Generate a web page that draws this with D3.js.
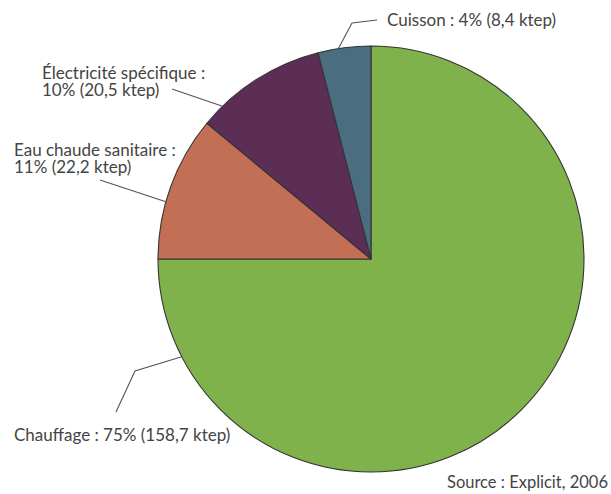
<!DOCTYPE html>
<html>
<head>
<meta charset="utf-8">
<script src="https://cdn.jsdelivr.net/npm/d3@7"></script>
<style>
  body { margin: 0; background: #fff; }
  text { font-family: Lato, "Open Sans", sans-serif; fill: #444; }
</style>
</head>
<body>
<script>
// data
const categories = ['Chauffage', 'Eau chaude sanitaire', 'Électricité spécifique', 'Cuisson'];
const percents = [75, 11, 10, 4];
const ktep = ['158,7', '22,2', '20,5', '8,4'];
const colors = ['#7fb24a', '#c36f55', '#5c2d55', '#4a6d80'];

const W = 611, H = 494;
const cx = 371, cy = 259, R = 213;

// label layout: anchor angle on the rim (deg), elbow, end of leader, text position
const labelLayout = [
  { angle: 242.7, elbow: [135, 371], end: [116, 412], x: 14, y: 441, wrap: false },
  { angle: 285.6, elbow: null, end: [100, 180], x: 14, y: 156, wrap: true },
  { angle: 315.8, elbow: null, end: [172, 89], x: 42, y: 79, wrap: true },
  { angle: 351.2, elbow: [352, 23], end: [377, 20], x: 387, y: 26, wrap: false }
];

const svg = d3.select('body').append('svg')
  .attr('width', W)
  .attr('height', H);

const pie = d3.pie().sort(null).value(d => d)
  .startAngle(0).endAngle(2 * Math.PI);
const arc = d3.arc().innerRadius(0).outerRadius(R);

const g = svg.append('g').attr('transform', `translate(${cx},${cy})`);

g.selectAll('path')
  .data(pie(percents))
  .join('path')
  .attr('d', arc)
  .attr('fill', (d, i) => colors[i])
  .attr('stroke', '#333')
  .attr('stroke-width', 1.1)
  .attr('stroke-linejoin', 'round');

// leader lines
labelLayout.forEach((l) => {
  let a = l.angle * Math.PI / 180;
  let p0 = [cx + Math.sin(a) * R, cy - Math.cos(a) * R];
  let pts = [p0];
  if (l.elbow) pts.push(l.elbow);
  pts.push(l.end);
  svg.append('path')
    .attr('d', d3.line()(pts))
    .attr('fill', 'none')
    .attr('stroke', '#555')
    .attr('stroke-width', 1.1);
});

// labels
labelLayout.forEach((l, i) => {
  let txt = l.wrap
    ? [`${categories[i]} :`, `${percents[i]}% (${ktep[i]} ktep)`]
    : [`${categories[i]} : ${percents[i]}% (${ktep[i]} ktep)`];
  let t = svg.append('text')
    .attr('x', l.x)
    .attr('y', l.y)
    .style('font-size', '17px');
  txt.forEach((s, k) => {
    t.append('tspan')
      .attr('x', l.x)
      .attr('dy', k == 0 ? 0 : 17)
      .text(s);
  });
});

svg.append('text')
  .attr('x', 608)
  .attr('y', 488)
  .attr('text-anchor', 'end')
  .style('font-size', '16.5px')
  .text('Source : Explicit, 2006');
</script>
</body>
</html>
